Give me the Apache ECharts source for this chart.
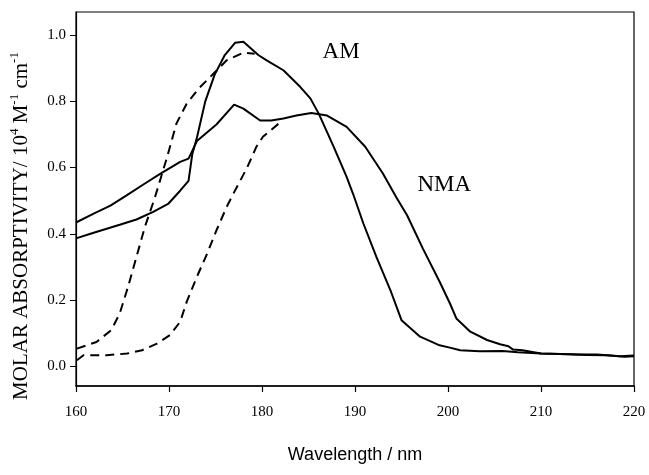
<!DOCTYPE html>
<html>
<head>
<meta charset="utf-8">
<script src="https://cdn.jsdelivr.net/npm/echarts@6/dist/echarts.min.js"></script>
<style>
html,body{margin:0;padding:0;background:#fff;}
#chart{width:649px;height:475px;}
</style>
</head>
<body>
<div id="chart"></div>
<script>
// AM, solid
var amSolidX = [160.0,161.9,164.7,166.5,168.3,169.9,171.2,172.1,172.5,173.0,173.9,174.9,176.0,177.1,178.0,179.6,180.5,182.3,184.1,185.2,186.1,187.7,189.1,189.8,190.9,192.3,193.8,195.0,197.0,199.1,200.2,201.3,203.4,205.9,207.5,210.0,213.0,215.0,217.0,218.5,220.0];
var amSolidY = [0.386,0.403,0.427,0.443,0.466,0.490,0.530,0.560,0.640,0.690,0.800,0.880,0.940,0.977,0.980,0.940,0.924,0.894,0.844,0.809,0.763,0.663,0.572,0.520,0.431,0.330,0.230,0.139,0.089,0.063,0.056,0.048,0.045,0.046,0.042,0.038,0.036,0.034,0.033,0.030,0.032];
// NMA, solid
var nmaSolidX = [160.0,161.9,163.7,165.4,167.2,169.0,171.2,172.1,173.0,175.1,177.0,178.0,179.8,181.0,182.3,183.7,185.3,187.0,189.1,191.1,193.0,194.5,195.6,197.3,199.1,200.2,200.9,202.4,204.2,205.6,206.5,207.0,208.0,210.0,212.0,214.0,216.0,217.5,219.0,220.0];
var nmaSolidY = [0.434,0.461,0.485,0.515,0.548,0.580,0.617,0.627,0.680,0.730,0.790,0.778,0.742,0.742,0.748,0.757,0.765,0.757,0.723,0.663,0.582,0.507,0.456,0.355,0.255,0.190,0.144,0.104,0.079,0.066,0.060,0.050,0.048,0.038,0.037,0.035,0.035,0.032,0.028,0.030];
// AM, dashed
var amDashX = [160.1,162.2,163.8,164.7,165.6,166.5,167.4,168.5,169.8,170.8,171.9,173.2,174.8,176.2,178.0,179.2];
var amDashY = [0.053,0.073,0.109,0.159,0.240,0.330,0.420,0.511,0.632,0.733,0.793,0.839,0.884,0.924,0.947,0.944];
// NMA, dashed
var nmaDashX = [160.1,160.8,163.3,165.5,167.1,168.7,170.1,171.2,171.9,173.0,174.1,175.1,176.2,176.9,178.4,179.4,180.1,181.8];
var nmaDashY = [0.018,0.033,0.033,0.038,0.048,0.068,0.094,0.134,0.194,0.270,0.340,0.410,0.481,0.520,0.600,0.663,0.693,0.733];

var yTicks = [0.0,0.2,0.4,0.6,0.8,1.0];

function pairs(xs, ys){ return xs.map(function(x,i){ return [x, ys[i]]; }); }

var serif = '"Liberation Serif", "Times New Roman", serif';
var chart = echarts.init(document.getElementById('chart'));
var lineBase = { type:'line', showSymbol:false, symbol:'none', silent:true, animation:false };

chart.setOption({
  animation:false,
  grid:{ left:76, right:15, top:12, bottom:89, show:true, borderColor:'#000', borderWidth:1.2, backgroundColor:'transparent' },
  xAxis:{
    type:'value', min:160, max:220, interval:10,
    name:'Wavelength / nm', nameLocation:'middle', nameGap:60,
    nameTextStyle:{ fontFamily:'"Liberation Sans", Arial, sans-serif', fontSize:18, color:'#000' },
    axisLine:{ show:true, onZero:false, lineStyle:{ color:'#000', width:1.5 } },
    axisTick:{ show:true, length:6, lineStyle:{ color:'#000', width:1.2 } },
    axisLabel:{ color:'#000', fontFamily:serif, fontSize:15, margin:19 },
    splitLine:{ show:false }
  },
  yAxis:{
    type:'value', min:-0.06, max:1.07,
    axisLine:{ show:true, onZero:false, lineStyle:{ color:'#000', width:1.2 } },
    axisTick:{ show:true, length:6, customValues:yTicks, lineStyle:{ color:'#000', width:1 } },
    axisLabel:{ color:'#000', fontFamily:serif, fontSize:15, margin:10, customValues:yTicks,
      formatter:function(v){ return v.toFixed(1); } },
    splitLine:{ show:false }
  },
  graphic:[{
    type:'text', x:20, y:226, rotation:Math.PI/2,
    style:{
      text:'{a|MOLAR ABSORPTIVITY/ 10}{s|4}{a| M}{s|-1}{a| cm}{s|-1}',
      align:'center', verticalAlign:'middle',
      rich:{
        a:{ fontFamily:serif, fontSize:21, fill:'#000', lineHeight:24, verticalAlign:'bottom' },
        s:{ fontFamily:serif, fontSize:13, fill:'#000', lineHeight:24, verticalAlign:'top' }
      }
    }
  }],
  series:[
    Object.assign({}, lineBase, { name:'AM', data:pairs(amSolidX, amSolidY), lineStyle:{ color:'#000', width:2 },
      markPoint:{ symbol:'circle', symbolSize:0, silent:true, animation:false,
        label:{ show:true, position:'inside', color:'#000', fontFamily:serif, fontSize:23, formatter:'{b}' },
        data:[{ name:'AM', coord:[188.5, 0.95] }] } }),
    Object.assign({}, lineBase, { name:'NMA', data:pairs(nmaSolidX, nmaSolidY), lineStyle:{ color:'#000', width:2 },
      markPoint:{ symbol:'circle', symbolSize:0, silent:true, animation:false,
        label:{ show:true, position:'inside', color:'#000', fontFamily:serif, fontSize:23, formatter:'{b}' },
        data:[{ name:'NMA', coord:[199.6, 0.547] }] } }),
    Object.assign({}, lineBase, { name:'AM dashed', data:pairs(amDashX, amDashY), lineStyle:{ color:'#000', width:2, type:[9,6] } }),
    Object.assign({}, lineBase, { name:'NMA dashed', data:pairs(nmaDashX, nmaDashY), lineStyle:{ color:'#000', width:2, type:[9,6] } })
  ]
});
</script>
</body>
</html>
